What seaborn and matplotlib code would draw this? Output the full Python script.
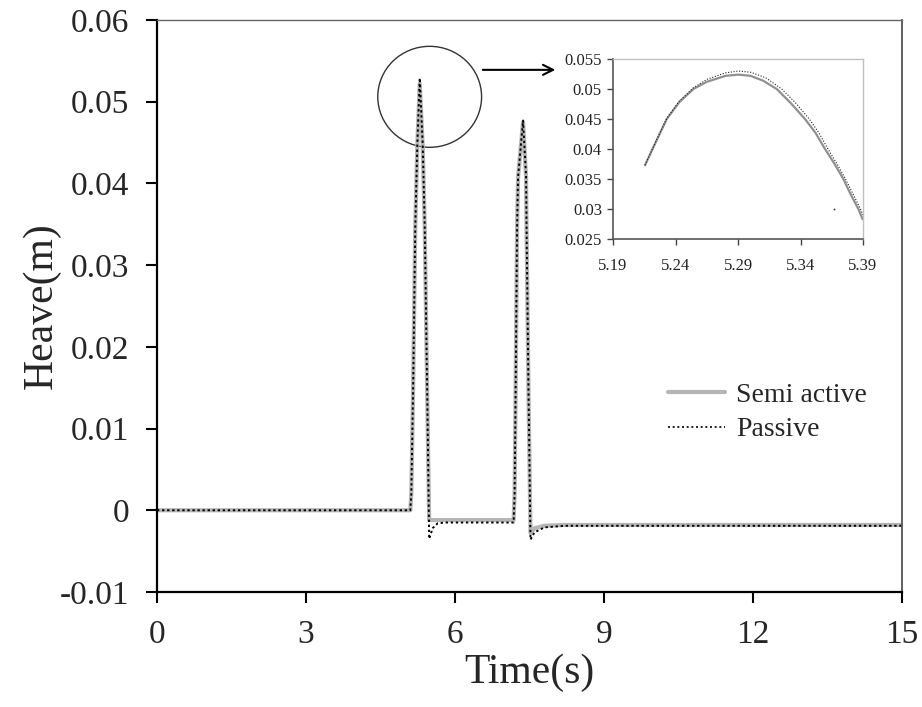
import matplotlib
matplotlib.use("Agg")
import matplotlib.pyplot as plt
import seaborn as sns
import pandas as pd
from matplotlib.patches import Ellipse
from matplotlib.lines import Line2D

# ---- data ----
time_s = [0, 5.10, 5.12, 5.155, 5.20, 5.24, 5.29, 5.35, 5.39, 5.44, 5.48, 5.55, 5.65, 5.80,
          7.18, 7.20, 7.22, 7.25, 7.27, 7.37, 7.43, 7.44, 7.48, 7.52, 7.60, 7.80, 8.20, 9.0, 12.0, 15.0]
semi_active = [0, 0, 0.002, 0.0143, 0.0347, 0.0445, 0.0522, 0.0445, 0.0347, 0.0143, -0.0012, -0.0012,
               -0.0012, -0.0012, -0.0012, 0.002, 0.0143, 0.0347, 0.0408, 0.0475, 0.0408, 0.0347,
               0.0143, -0.0028, -0.0022, -0.0019, -0.0018, -0.0018, -0.0018, -0.0018]
passive = [0, 0, 0.002, 0.0143, 0.0347, 0.0445, 0.0529, 0.0447, 0.0350, 0.0146, -0.0035, -0.0022,
           -0.0016, -0.0015, -0.0015, 0.002, 0.0143, 0.0347, 0.0408, 0.0477, 0.0410, 0.0350,
           0.0146, -0.0036, -0.0027, -0.0021, -0.0019, -0.0019, -0.0019, -0.0019]

zoom_time_semi = [5.2156, 5.225, 5.233, 5.243, 5.2543, 5.265, 5.28, 5.2903, 5.30, 5.31, 5.321,
                  5.332, 5.3436, 5.352, 5.3596, 5.367, 5.3743, 5.380, 5.3863, 5.3897]
zoom_semi = [0.0373, 0.0415, 0.0450, 0.0478, 0.0500, 0.0512, 0.0522, 0.0524, 0.0522, 0.0514, 0.0500,
             0.0477, 0.0450, 0.0427, 0.0400, 0.0376, 0.0350, 0.0325, 0.0300, 0.0283]
zoom_time_pass = [5.2156, 5.225, 5.233, 5.243, 5.2543, 5.265, 5.28, 5.2903, 5.30, 5.312, 5.325,
                  5.336, 5.347, 5.355, 5.362, 5.369, 5.376, 5.382, 5.388, 5.390]
zoom_pass = [0.0373, 0.0416, 0.0451, 0.0480, 0.0502, 0.0516, 0.0527, 0.0530, 0.0528, 0.0519, 0.0500,
             0.0477, 0.0450, 0.0426, 0.0400, 0.0376, 0.0350, 0.0325, 0.0300, 0.0290]
stray_t = [5.367]
stray_v = [0.0300]

main_xticks = [0, 3, 6, 9, 12, 15]
main_yticks = [-0.01, 0, 0.01, 0.02, 0.03, 0.04, 0.05, 0.06]
main_ylabels = ["-0.01", "0", "0.01", "0.02", "0.03", "0.04", "0.05", "0.06"]
zoom_xticks = [5.19, 5.24, 5.29, 5.34, 5.39]
zoom_yticks = [0.025, 0.03, 0.035, 0.04, 0.045, 0.05, 0.055]
zoom_ylabels = ["0.025", "0.03", "0.035", "0.04", "0.045", "0.05", "0.055"]

sns.set_style("white")
plt.rcParams["font.family"] = ["Liberation Serif", "DejaVu Serif"]

fig = plt.figure(figsize=(9.22, 7.07), dpi=100)
ax = fig.add_axes([0.1703, 0.1627, 0.9783 - 0.1703, 0.9717 - 0.1627])

df_main = pd.DataFrame({"t": time_s, "semi": semi_active, "pass": passive})
sns.lineplot(data=df_main, x="t", y="semi", ax=ax, color="#b5b5b5", lw=3.0,
             estimator=None, sort=False)
sns.lineplot(data=df_main, x="t", y="pass", ax=ax, color="black", lw=1.4,
             linestyle=(0, (1.2, 1.4)), estimator=None, sort=False)

ax.set_xlim(0, 15)
ax.set_ylim(-0.01, 0.06)
ax.set_xticks(main_xticks)
ax.set_xticklabels([str(v) for v in main_xticks])
ax.set_yticks(main_yticks)
ax.set_yticklabels(main_ylabels)
ax.tick_params(axis="both", direction="out", length=8, width=1.5, labelsize=24,
               color="black", bottom=True, left=True, pad=12)
ax.set_xlabel("Time(s)", fontsize=30, labelpad=2)
ax.set_ylabel("Heave(m)", fontsize=30, labelpad=-1)
for side in ["left", "bottom"]:
    ax.spines[side].set_color("black")
    ax.spines[side].set_linewidth(1.6)
ax.spines["top"].set_color("#666666")
ax.spines["top"].set_linewidth(1.0)
ax.spines["right"].set_color("#555555")
ax.spines["right"].set_linewidth(1.3)

# circle around first peak and arrow to inset
ax.add_patch(Ellipse((5.49, 0.0506), 2.09, 0.01236, fill=False, lw=1.0, ec="#333333"))
ax.annotate("", xy=(8.02, 0.0539), xytext=(6.56, 0.0539),
            arrowprops=dict(arrowstyle="->", lw=1.5, color="black", mutation_scale=18,
                            shrinkA=0, shrinkB=0))

handles = [Line2D([], [], color="#b5b5b5", lw=3.0),
           Line2D([], [], color="black", lw=1.2, linestyle=(0, (1.2, 1.6)))]
ax.legend(handles, ["Semi active", "Passive"], loc="upper left",
          bbox_to_anchor=(0.686, 0.366), frameon=False, fontsize=20,
          borderpad=0, borderaxespad=0, handlelength=2.05, handletextpad=0.4,
          labelspacing=0.32)

# ---- inset ----
ins = fig.add_axes([0.6649, 0.6620, 0.936 - 0.6649, 0.9165 - 0.6620])
ins.set_facecolor("white")
df_zs = pd.DataFrame({"t": zoom_time_semi, "v": zoom_semi})
df_zp = pd.DataFrame({"t": zoom_time_pass, "v": zoom_pass})
sns.lineplot(data=df_zs, x="t", y="v", ax=ins, color="#909090", lw=1.6,
             estimator=None, sort=False)
sns.lineplot(data=df_zp, x="t", y="v", ax=ins, color="#222222", lw=0.8,
             linestyle=(0, (1, 1.5)), estimator=None, sort=False)
sns.scatterplot(x=stray_t, y=stray_v, ax=ins, color="#444444", s=2, linewidth=0)
ins.set_xlim(5.19, 5.39)
ins.set_ylim(0.025, 0.055)
ins.set_xticks(zoom_xticks)
ins.set_xticklabels(["5.19", "5.24", "5.29", "5.34", "5.39"])
ins.set_yticks(zoom_yticks)
ins.set_yticklabels(zoom_ylabels)
ins.tick_params(axis="both", direction="out", length=4, width=1.0, labelsize=12,
                color="#444444", labelcolor="#222222", bottom=True, left=True, pad=4)
ins.tick_params(axis="x", pad=10)
ins.set_xlabel("")
ins.set_ylabel("")
for side in ["left", "bottom"]:
    ins.spines[side].set_color("#555555")
    ins.spines[side].set_linewidth(1.2)
for side in ["top", "right"]:
    ins.spines[side].set_color("#c0c0c0")
    ins.spines[side].set_linewidth(1.0)

fig.savefig("out.png", dpi=100)
